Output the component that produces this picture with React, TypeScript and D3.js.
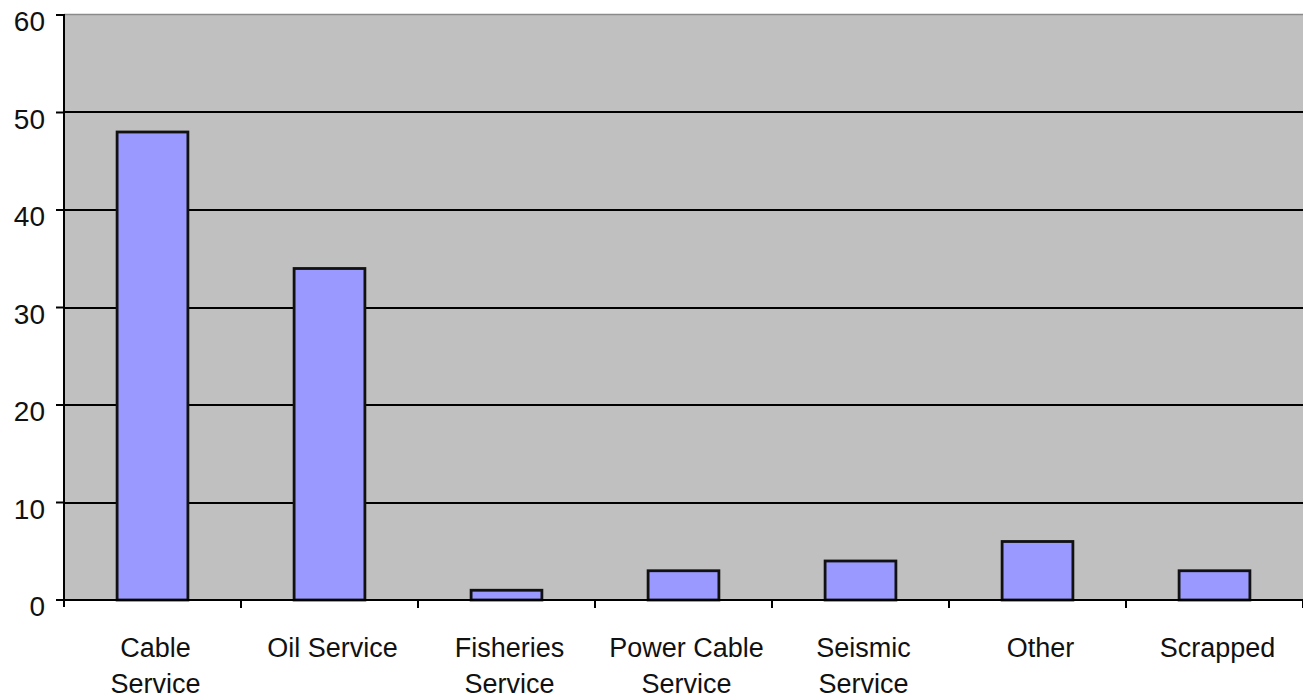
import React from "react";
import * as d3 from "d3";

const categories: string[][] = [
  ["Cable", "Service"],
  ["Oil Service"],
  ["Fisheries", "Service"],
  ["Power Cable", "Service"],
  ["Seismic", "Service"],
  ["Other"],
  ["Scrapped"],
];
const values: number[] = [48, 34, 1, 3, 4, 6, 3];
const yTicks: number[] = [0, 10, 20, 30, 40, 50, 60];

const W = 1303;
const H = 698;
const M = { left: 64, right: 0, top: 15, bottom: 98 };

export default function App() {
  const keys = categories.map((c) => c.join(" "));
  const x = d3
    .scaleBand<string>()
    .domain(keys)
    .range([M.left, W - M.right])
    .paddingInner(0)
    .paddingOuter(0);
  const y = d3.scaleLinear().domain([0, 60]).range([H - M.bottom, M.top]);
  const bw = x.bandwidth() * 0.4;
  const font = "Arimo, 'Liberation Sans', Arial, sans-serif";

  return (
    <svg
      width={W}
      height={H}
      style={{ position: "absolute", left: 0, top: 0, display: "block" }}
    >
      <rect x={0} y={0} width={W} height={H} fill="#ffffff" />
      <rect
        x={M.left}
        y={M.top}
        width={W - M.right - M.left}
        height={y(0) - M.top}
        fill="#c0c0c0"
      />
      <line x1={M.left} x2={W} y1={M.top - 0.5} y2={M.top - 0.5} stroke="#8a8a8a" strokeWidth={1.5} />
      {yTicks.slice(1, -1).map((t) => (
        <line
          key={t}
          x1={M.left}
          x2={W}
          y1={Math.round(y(t))}
          y2={Math.round(y(t))}
          stroke="#000"
          strokeWidth={2}
        />
      ))}
      {values.map((v, i) => {
        const cx = (x(keys[i]) as number) + x.bandwidth() / 2;
        return (
          <rect
            key={i}
            x={cx - bw / 2}
            y={y(v)}
            width={bw}
            height={y(0) - y(v)}
            fill="#9999ff"
            stroke="#111"
            strokeWidth={2.8}
          />
        );
      })}
      {/* y axis */}
      <line x1={M.left} x2={M.left} y1={M.top - 1} y2={y(0) + 7} stroke="#000" strokeWidth={2} />
      {yTicks.map((t) => (
        <g key={t}>
          <line x1={M.left - 8} x2={M.left} y1={y(t)} y2={y(t)} stroke="#000" strokeWidth={2} />
          <text
            x={45}
            y={y(t) + 16}
            textAnchor="end"
            fontFamily={font}
            fontSize={28}
            fill="#111"
          >
            {t}
          </text>
        </g>
      ))}
      {/* x axis */}
      <line x1={M.left} x2={W} y1={y(0)} y2={y(0)} stroke="#000" strokeWidth={2} />
      {keys.map((k) => (
        <line
          key={k}
          x1={(x(k) as number) + x.bandwidth()}
          x2={(x(k) as number) + x.bandwidth()}
          y1={y(0)}
          y2={y(0) + 8}
          stroke="#000"
          strokeWidth={2}
        />
      ))}
      {categories.map((lines, i) => {
        const cx = (x(keys[i]) as number) + x.bandwidth() / 2 + 3;
        return (
          <text
            key={i}
            textAnchor="middle"
            fontFamily={font}
            fontSize={27}
            fill="#111"
          >
            {lines.map((l, j) => (
              <tspan key={j} x={cx} y={657 + j * 36}>
                {l}
              </tspan>
            ))}
          </text>
        );
      })}
    </svg>
  );
}
